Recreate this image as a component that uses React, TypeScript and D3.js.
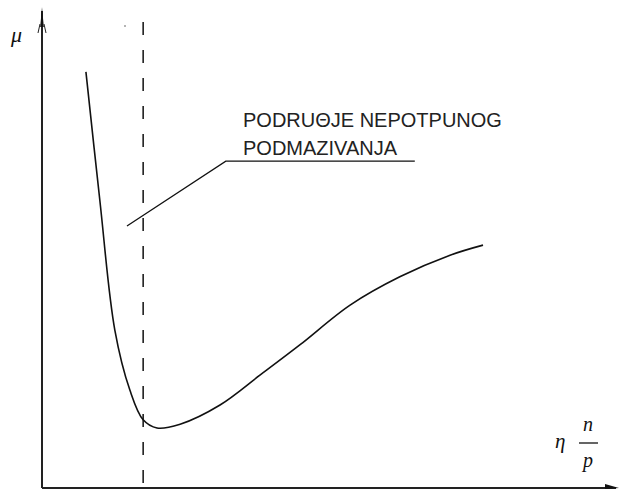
import React from "react";
import * as d3 from "d3";

const W = 621;
const H = 492;

// Curve μ(η n/p) in normalized data units (0..100)
const xValues = [7.6, 10.0, 12.6, 15.2, 17.5, 19.9, 23.9, 30.8, 37.7, 44.6, 53.3, 61.9, 70.6, 76.3];
const muValues = [86.7, 60.0, 32.9, 20.4, 14.2, 12.5, 13.3, 17.3, 23.5, 29.8, 38.1, 44.0, 48.5, 50.6];

// Boundary (dashed vertical) position
const boundaryX = [17.5];
// Leader line of the annotation
const leaderX = [14.7, 31.8, 64.5];
const leaderY = [54.6, 68.1, 68.1];
const labelLines = ["PODRUΘJE NEPOTPUNOG", "PODMAZIVANJA"];

export default function App() {
  const x = d3.scaleLinear().domain([0, 100]).range([42, 620]);
  const y = d3.scaleLinear().domain([0, 100]).range([488, 8]);

  const pts = xValues.map((v, i) => [v, muValues[i]] as [number, number]);
  const curve = d3
    .line<[number, number]>()
    .x((d) => x(d[0]))
    .y((d) => y(d[1]))
    .curve(d3.curveCatmullRom.alpha(0.5))(pts);

  const leader = d3
    .line<[number, number]>()
    .x((d) => x(d[0]))
    .y((d) => y(d[1]))(leaderX.map((v, i) => [v, leaderY[i]] as [number, number]));

  const x0 = x(0);
  const y0 = y(0);
  const bx = x(boundaryX[0]);
  const top = y(100) - 1;
  const right = x(100);

  return (
    <div style={{ position: "absolute", left: 0, top: 0 }}>
      <svg width={W} height={H} style={{ display: "block", background: "#fff" }}>
        {/* axes */}
        <line x1={x0} y1={y0} x2={x0} y2={top + 4} stroke="#222" strokeWidth={2} />
        <line x1={x0} y1={y0} x2={right - 4} y2={y0} stroke="#222" strokeWidth={2} />
        {/* arrow heads */}
        <path d={`M${x0 - 1.8},${top + 20} L${x0},${top} L${x0 + 1.8},${top + 20} Z`} fill="#111" />
        <path d={`M${x0 - 4},${top + 26} L${x0 - 2},${top + 17}`} stroke="#222" strokeWidth={1} fill="none" />
        <path d={`M${x0 + 4},${top + 26} L${x0 + 2},${top + 17}`} stroke="#222" strokeWidth={1} fill="none" />
        <path d={`M${right - 15},${y0 - 4} L${right - 1},${y0} L${right - 15},${y0 + 1} Z`} fill="#111" />
        {/* dashed boundary */}
        <line x1={bx} y1={22} x2={bx} y2={y0} stroke="#111" strokeWidth={1.5} strokeDasharray="13 15" />
        <circle cx={125} cy={26} r={0.8} fill="#555" />
        {/* curve */}
        <path d={curve || ""} fill="none" stroke="#111" strokeWidth={1.6} />
        {/* leader */}
        <path d={leader || ""} fill="none" stroke="#111" strokeWidth={1.3} />
        {/* label */}
        <g fontFamily="Liberation Sans, Arial, sans-serif" fontSize={20} fill="#222">
          <text x={243} y={127}>{labelLines[0]}</text>
          <text x={243} y={155}>{labelLines[1]}</text>
        </g>
        {/* axis labels */}
        <text x={11} y={42} fontFamily="Liberation Serif, serif" fontStyle="italic" fontSize={22} fill="#111">μ</text>
        <g fontFamily="Liberation Serif, serif" fontStyle="italic" fill="#111">
          <text x={555} y={448} fontSize={21}>η</text>
          <text x={588} y={431} fontSize={20} textAnchor="middle">n</text>
          <line x1={579} y1={443} x2={598} y2={443} stroke="#111" strokeWidth={1.3} />
          <text x={588} y={467} fontSize={20} textAnchor="middle">p</text>
        </g>
      </svg>
    </div>
  );
}
